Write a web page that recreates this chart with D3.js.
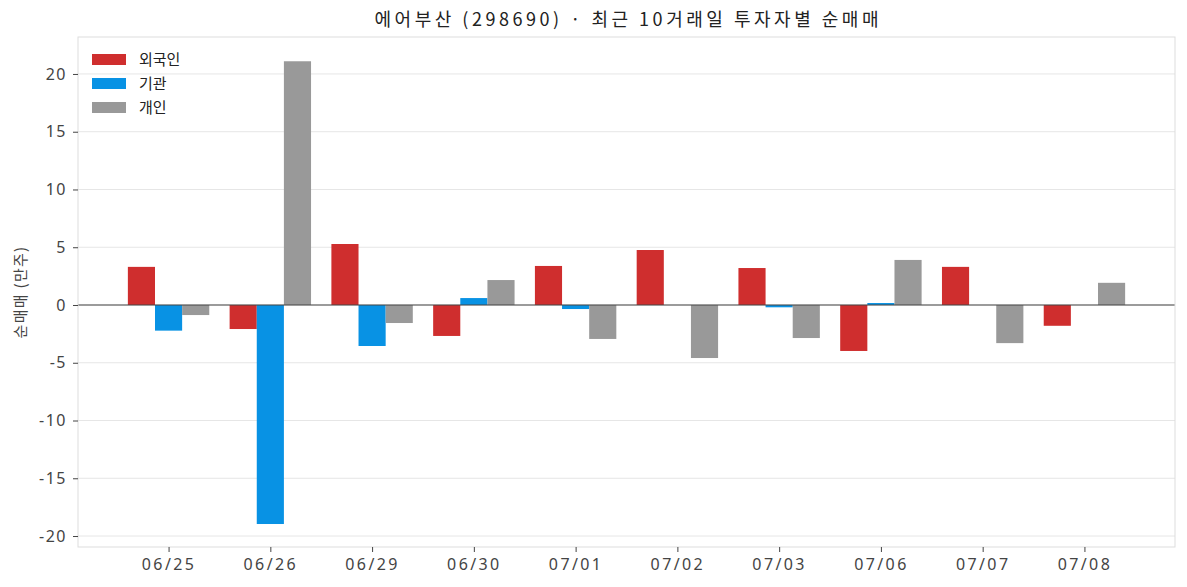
<!DOCTYPE html>
<html>
<head>
<meta charset="utf-8">
<script src="https://cdn.jsdelivr.net/npm/d3@7"></script>
<style>
  body { margin: 0; background: #fff; }
  text { font-family: "Noto Sans CJK KR", "Noto Sans", sans-serif; }
</style>
</head>
<body>
<div id="chart"></div>
<script>
// data (만주)
var dates = ["06/25", "06/26", "06/29", "06/30", "07/01", "07/02", "07/03", "07/06", "07/07", "07/08"];
var foreign = [3.3, -2.08, 5.28, -2.68, 3.38, 4.76, 3.2, -3.98, 3.3, -1.8];
var inst = [-2.22, -18.96, -3.55, 0.6, -0.35, 0, -0.2, 0.17, 0, 0];
var retail = [-0.87, 21.1, -1.56, 2.16, -2.94, -4.59, -2.86, 3.9, -3.3, 1.92];
var seriesNames = ["외국인", "기관", "개인"];
var colors = ["#cf2e2e", "#0892e4", "#999999"];
var yTicks = [-20, -15, -10, -5, 0, 5, 10, 15, 20];

var width = 1187, height = 587;
var margin = {top: 37, right: 12, bottom: 40, left: 78};
var innerW = width - margin.left - margin.right;
var innerH = height - margin.top - margin.bottom;

var svg = d3.select('#chart')
    .append('svg')
    .attr('width', width)
    .attr('height', height);

// title
svg.append('text')
    .attr('x', margin.left + innerW / 2)
    .attr('y', 26)
    .attr('text-anchor', 'middle')
    .attr('textLength', 504)
    .attr('lengthAdjust', 'spacing')
    .style('font-size', '18px')
    .style('fill', '#222')
    .text('에어부산 (298690) · 최근 10거래일 투자자별 순매매');

var g = svg.append('g').attr('transform', `translate(${margin.left},${margin.top})`);

// scales: index based with 5% margins like matplotlib
var n = dates.length;
var groupW = 0.8;
var lo = -groupW / 2, hi = n - 1 + groupW / 2;
var pad = (hi - lo) * 0.05;
var x = d3.scaleLinear().domain([lo - pad, hi + pad]).range([0, innerW]);
var y = d3.scaleLinear().domain([-20.95, 23.2]).range([innerH, 0]);

// grid
g.selectAll('line.grid')
    .data(yTicks)
    .enter()
    .append('line')
    .attr('class', 'grid')
    .attr('x1', 0).attr('x2', innerW)
    .attr('y1', d => y(d)).attr('y2', d => y(d))
    .attr('stroke', '#e6e6e6')
    .attr('stroke-width', 1);

// bars
var series = [foreign, inst, retail];
var barW = groupW / 3;
series.forEach(function(vals, si) {
  g.selectAll('rect.s' + si)
    .data(vals)
    .enter()
    .append('rect')
    .attr('class', 's' + si)
    .attr('x', (d, i) => x(i - groupW / 2 + si * barW))
    .attr('width', x(barW) - x(0))
    .attr('y', d => y(Math.max(0, d)))
    .attr('height', d => Math.abs(y(d) - y(0)))
    .attr('fill', colors[si]);
});

// zero line
g.append('line')
    .attr('x1', 0).attr('x2', innerW)
    .attr('y1', y(0)).attr('y2', y(0))
    .attr('stroke', '#444')
    .attr('stroke-width', 1.2);

// frame
g.append('rect')
    .attr('width', innerW).attr('height', innerH)
    .attr('fill', 'none')
    .attr('stroke', '#dddddd')
    .attr('stroke-width', 1);

// y axis
var leftAxis = d3.axisLeft(y).tickValues(yTicks).tickSize(5).tickPadding(6)
    .tickFormat(d => d < 0 ? '-' + Math.abs(d) : d);
var yAxis = g.append('g').call(leftAxis);
yAxis.select('.domain').remove();
yAxis.selectAll('line').attr('stroke', '#444');
yAxis.selectAll('text').style('font-size', '16px').style('fill', '#444')
    .style('letter-spacing', '1.5px')
    .style('font-family', '"Noto Sans", sans-serif');

// x axis
var bottomAxis = d3.axisBottom(x).tickValues(d3.range(n)).tickSize(5).tickPadding(7)
    .tickFormat(i => dates[i]);
var xAxis = g.append('g').attr('transform', `translate(0,${innerH})`).call(bottomAxis);
xAxis.select('.domain').remove();
xAxis.selectAll('line').attr('stroke', '#444');
xAxis.selectAll('text').style('font-size', '16px').style('fill', '#444')
    .style('letter-spacing', '2.4px')
    .style('font-family', '"Noto Sans", sans-serif');

// y label
svg.append('text')
    .attr('transform', `translate(26,${margin.top + innerH / 2})rotate(-90)`)
    .attr('text-anchor', 'middle')
    .style('font-size', '15px')
    .style('letter-spacing', '1.3px')
    .style('fill', '#444')
    .text('순매매 (만주)');

// legend
var legend = svg.append('g').attr('transform', 'translate(92,54)');
seriesNames.forEach(function(name, i) {
  legend.append('rect')
    .attr('x', 0).attr('y', i * 24)
    .attr('width', 34).attr('height', 11)
    .attr('fill', colors[i]);
  legend.append('text')
    .attr('x', 47).attr('y', i * 24 + 11)
    .style('font-size', '15px')
    .style('fill', '#222')
    .text(name);
});
</script>
</body>
</html>
